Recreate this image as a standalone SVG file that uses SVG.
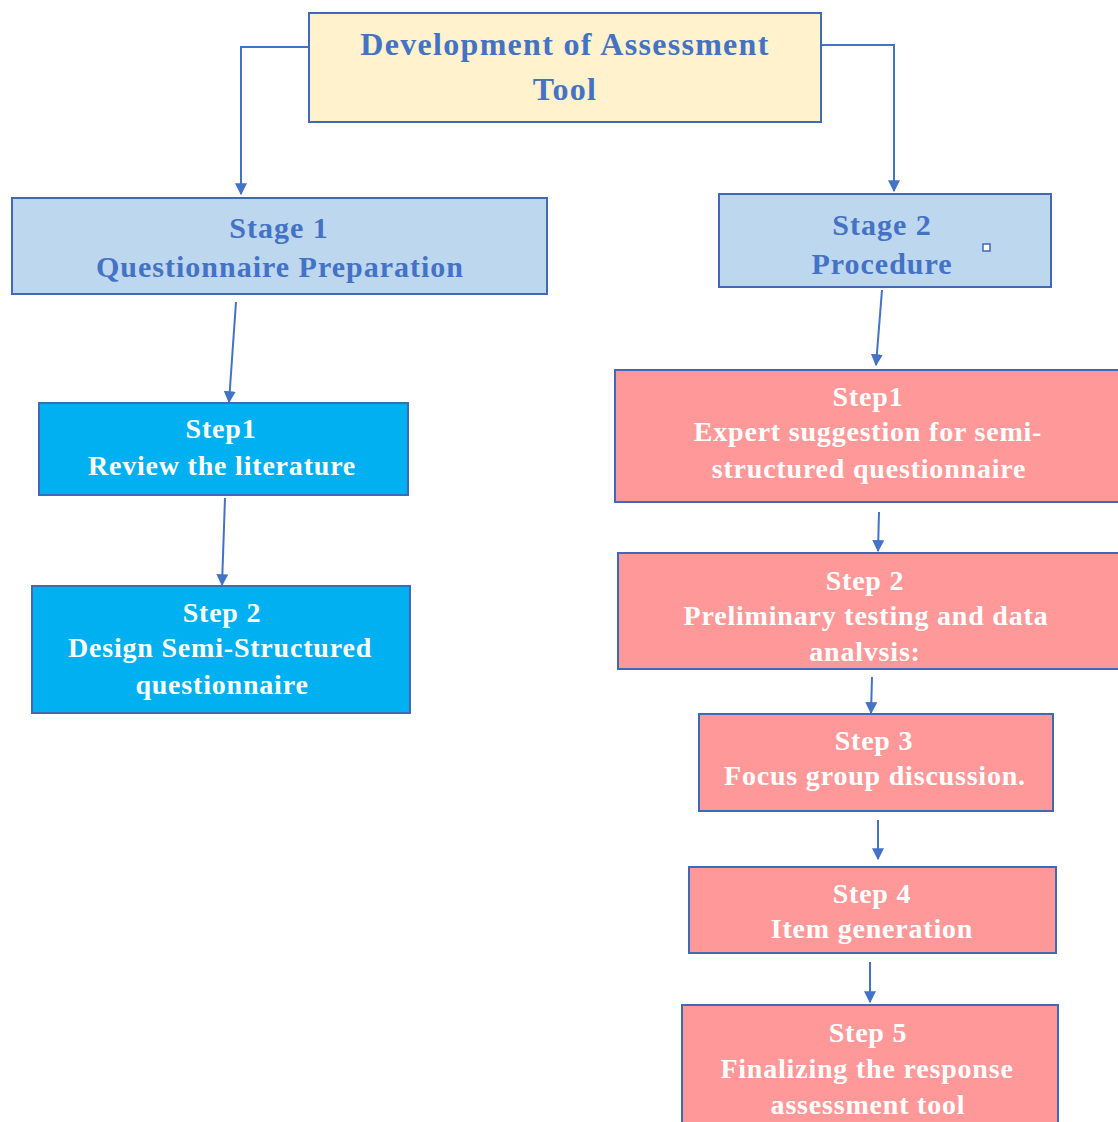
<svg xmlns="http://www.w3.org/2000/svg" width="1118" height="1122" viewBox="0 0 1118 1122">
<defs>
<style>
.box{stroke:#4169B5;stroke-width:2}
.top{fill:#FFF2CC}
.stage{fill:#BDD7EE}
.cyan{fill:#00B0F0}
.pink{fill:#FF9999}
text{font-family:"Liberation Serif","Times New Roman",serif;font-weight:bold;text-anchor:middle;font-size:28px;letter-spacing:0.8px}
.blue{fill:#4472C4}
.white{fill:#FFFFFF}
.big{font-size:32px;letter-spacing:1.3px}
.st{font-size:30px;letter-spacing:1px}
.conn{fill:none;stroke:#4472C4;stroke-width:2;marker-end:url(#arr)}
</style>
<marker id="arr" viewBox="0 0 10 10" refX="9" refY="5" markerWidth="6" markerHeight="6" orient="auto" markerUnits="strokeWidth">
<path d="M0,0 L10,5 L0,10 z" fill="#4472C4"/>
</marker>
</defs>
<rect width="1118" height="1122" fill="#FFFFFF"/>
<g id="connectors">
<path class="conn" d="M309,47 H241 V194"/>
<path class="conn" d="M821,45 H894 V191"/>
<path class="conn" d="M236,302 L229,402"/>
<path class="conn" d="M225,498 L222,585"/>
<path class="conn" d="M882,290 L876,365"/>
<path class="conn" d="M879,512 L878,551"/>
<path class="conn" d="M872,677 L871,713"/>
<path class="conn" d="M878,820 L878,859"/>
<path class="conn" d="M870,962 L870,1002"/>
</g>
<g id="top">
<rect class="box top" x="309" y="13" width="512" height="109"/>
<text class="blue big" x="565" y="55">Development of Assessment</text>
<text class="blue big" x="565" y="100">Tool</text>
</g>
<g id="stage1">
<rect class="box stage" x="12" y="198" width="535" height="96"/>
<text class="blue st" x="279" y="238">Stage 1</text>
<text class="blue st" x="280" y="277">Questionnaire Preparation</text>
</g>
<g id="stage2">
<rect class="box stage" x="719" y="194" width="332" height="93"/>
<text class="blue st" x="882" y="235">Stage 2</text>
<text class="blue st" x="882" y="274">Procedure</text>
<rect x="983" y="244" width="7" height="7" fill="#FFFFFF" stroke="#4169B5" stroke-width="1.5"/>
</g>
<g id="left-step1">
<rect class="box cyan" x="39" y="403" width="369" height="92"/>
<text class="white" x="221" y="438">Step1</text>
<text class="white" x="222" y="475">Review the literature</text>
</g>
<g id="left-step2">
<rect class="box cyan" x="32" y="586" width="378" height="127"/>
<text class="white" x="222" y="622">Step 2</text>
<text class="white" x="220" y="657">Design Semi-Structured</text>
<text class="white" x="222" y="694">questionnaire</text>
</g>
<g id="right-step1">
<rect class="box pink" x="615" y="370" width="510" height="132"/>
<text class="white" x="868" y="406">Step1</text>
<text class="white" x="868" y="441">Expert suggestion for semi-</text>
<text class="white" x="869" y="478">structured questionnaire</text>
</g>
<g id="right-step2">
<rect class="box pink" x="618" y="553" width="507" height="116"/>
<text class="white" x="865" y="590">Step 2</text>
<text class="white" x="866" y="625">Preliminary testing and data</text>
<text class="white" x="865" y="661">analvsis:</text>
</g>
<g id="right-step3">
<rect class="box pink" x="699" y="714" width="354" height="97"/>
<text class="white" x="874" y="750">Step 3</text>
<text class="white" x="875" y="785">Focus group discussion.</text>
</g>
<g id="right-step4">
<rect class="box pink" x="689" y="867" width="367" height="86"/>
<text class="white" x="872" y="903">Step 4</text>
<text class="white" x="872" y="938">Item generation</text>
</g>
<g id="right-step5">
<rect class="box pink" x="682" y="1005" width="376" height="125"/>
<text class="white" x="868" y="1042">Step 5</text>
<text class="white" x="867" y="1078">Finalizing the response</text>
<text class="white" x="868" y="1114">assessment tool</text>
</g>
</svg>
